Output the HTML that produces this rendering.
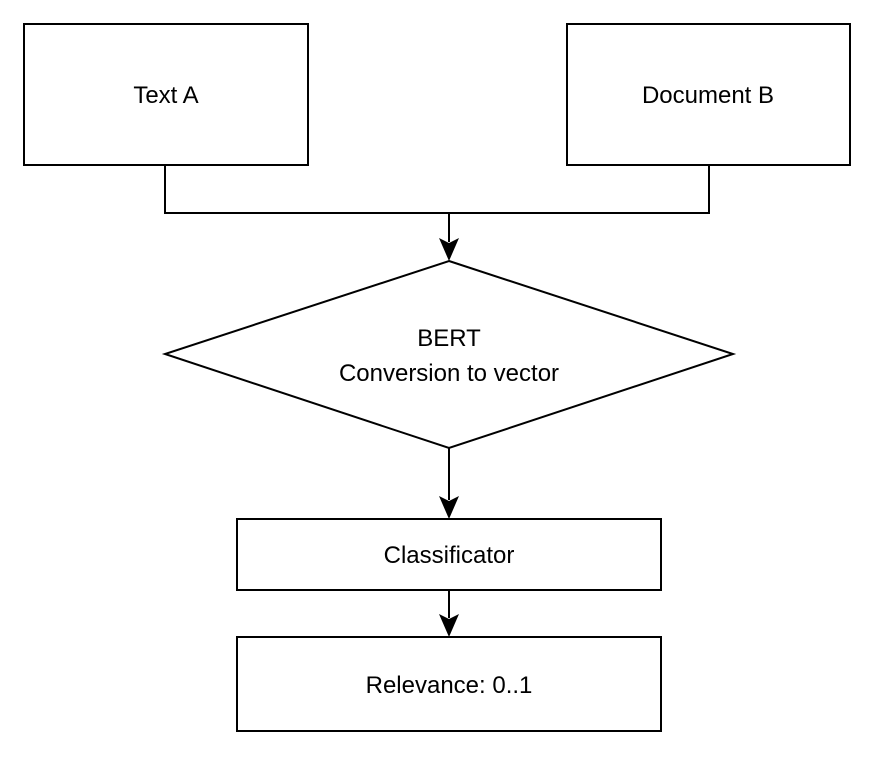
<!DOCTYPE html>
<html><head><style>html,body{margin:0;padding:0;background:#fff;}svg{display:block}</style></head>
<body>
<svg width="875" height="757" viewBox="0 0 875 757" xmlns="http://www.w3.org/2000/svg" font-family="'Liberation Sans', Arial, sans-serif" font-size="24" fill="#000">
<rect width="875" height="757" fill="#fff"/>
<g fill="none" stroke="#000" stroke-width="2">
<rect x="24" y="24" width="284" height="141"/>
<rect x="567" y="24" width="283" height="141"/>
<polyline points="165,165 165,213 709,213 709,165"/>
<line x1="449" y1="213" x2="449" y2="242"/>
<polygon points="449,261 733,354 449,448 165,354"/>
<line x1="449" y1="448" x2="449" y2="500"/>
<rect x="237" y="519" width="424" height="71"/>
<line x1="449" y1="590" x2="449" y2="618"/>
<rect x="237" y="637" width="424" height="94"/>
</g>
<g fill="#000">
<polygon points="439,238 449,261 459,238 449,243"/>
<polygon points="439,496 449,519 459,496 449,501"/>
<polygon points="439,614 449,637 459,614 449,619"/>
</g>
<g text-anchor="middle">
<text x="166" y="103">Text A</text>
<text x="708" y="103">Document B</text>
<text x="449" y="346">BERT</text>
<text x="449" y="381">Conversion to vector</text>
<text x="449" y="563">Classificator</text>
<text x="449" y="693">Relevance: 0..1</text>
</g>
</svg>
</body></html>
